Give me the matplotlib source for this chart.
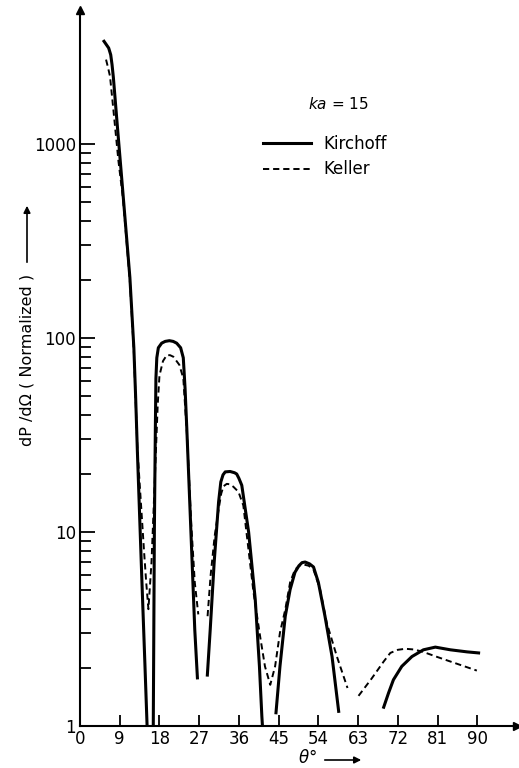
import matplotlib
matplotlib.use("Agg")
import matplotlib.pyplot as plt
from matplotlib.ticker import FixedLocator, NullFormatter
import numpy as np

plt.rcParams['font.family'] = ['DejaVu Sans']

# Kirchoff (solid) - theta in degrees, dP/dOmega normalized; nan = gap in the drawn curve
kirchoff_theta = [5.44, 5.96, 6.5, 6.96, 7.26, 7.56, 8.4, 9.75, 11.3, 12.2, 12.6, 13.0, 14.0,
                  14.7, 15.2, 15.9,
                  16.6, 16.85, 17.07, 17.2, 17.4, 17.75, 18.5, 19.3, 20.25, 21.1, 21.9, 22.8,
                  23.4, 23.8, 24.2, 25.1, 26.0, 26.6, np.nan,
                  28.85, 29.5, 30.4, 31.4, 31.9, 32.4, 32.9, 34.0, 35.0, 35.5, 36.0, 36.65,
                  38.2, 39.7, 40.65, 41.2, 41.6, np.nan,
                  44.4, 45.3, 46.5, 47.6, 48.7, 49.6, 50.3, 51.0, 52.0, 52.9, 54.0, 55.5,
                  57.1, 58.6, np.nan,
                  68.8, 69.9, 71.0, 72.9, 75.2, 77.8, 80.5, 83.9, 87.7, 90.3]
kirchoff_val = [3380, 3250, 3120, 2880, 2560, 2200, 1285, 550, 205, 89, 50, 26, 5.8,
                2.1, 1.0, 0.3,
                1.0, 10.4, 34, 62, 79, 89, 94, 96, 96.8, 96, 94, 89,
                79, 55, 34, 10.4, 3.14, 1.77, np.nan,
                1.83, 3.14, 7.0, 14.3, 18.1, 19.7, 20.4, 20.5, 20.2, 19.9, 18.9, 17.4,
                10.0, 4.49, 2.03, 1.12, 0.8, np.nan,
                1.17, 2.03, 3.68, 5.05, 6.2, 6.7, 6.95, 7.0, 6.85, 6.6, 5.5, 3.68,
                2.28, 1.19, np.nan,
                1.25, 1.48, 1.73, 2.03, 2.28, 2.47, 2.55, 2.47, 2.41, 2.38]

# Keller (dashed)
keller_theta = [5.9, 6.3, 6.8, 7.55, 8.7, 9.75, 11.3, 12.2, 13.0, 14.0, 14.5, 15.0, 15.5,
                16.2, 17.0, 17.6, 18.0, 18.8, 19.65, 20.4, 21.15, 22.5, 23.4, 24.3, 25.2,
                26.0, 26.8, np.nan,
                28.9, 29.6, 30.5, 31.5, 32.0, 32.5, 33.25, 34.0, 34.75, 35.9, 37.0, 39.3,
                40.8, 41.9, 43.1, 44.2, 45.3, 46.5, 47.6, 48.7, 49.7, 50.6, 51.8, 52.9, 54.4,
                55.9, 58.2, 60.6, np.nan,
                63.1, 66.1, 68.8, 70.3, 72.0, 73.7, 75.6, 77.5, 80.9, 83.9, 89.9]
keller_val = [2720, 2500, 2230, 1510, 820, 520, 195, 85, 27, 12, 8.0, 5.5, 4.0,
              7.0, 20, 45, 64, 76, 81.5, 81.5, 80, 72.7, 62, 30, 11,
              5.5, 3.76, np.nan,
              3.68, 6.0, 9.5, 13.5, 15.8, 17.2, 17.7, 17.6, 17.1, 16.1, 13.7, 4.9,
              2.9, 2.03, 1.63, 2.03, 3.03, 3.98, 5.5, 6.4, 6.7, 6.8, 6.7, 6.4, 5.05,
              3.4, 2.28, 1.57, np.nan,
              1.43, 1.76, 2.15, 2.38, 2.47, 2.5, 2.48, 2.42, 2.27, 2.15, 1.93]

x_ticks = [0, 9, 18, 27, 36, 45, 54, 63, 72, 81, 90]
y_ticks = [1, 10, 100, 1000]
y_minor = [m * d for d in (1, 10, 100) for m in range(2, 10)]

fig = plt.figure(figsize=(5.19, 7.68), dpi=100)
ax = fig.add_axes([80 / 519, 42 / 768, 437 / 519, 716 / 768])

ax.plot(kirchoff_theta, kirchoff_val, color='black', lw=2.2, label='Kirchoff')
ax.plot(keller_theta, keller_val, color='black', lw=1.4, linestyle=(0, (3.2, 2.0)), label='Keller')

ax.set_yscale('log')
ax.set_xlim(0, 99)
ax.set_ylim(1, 4900)

ax.xaxis.set_major_locator(FixedLocator(x_ticks))
ax.set_xticklabels([str(t) for t in x_ticks])
ax.yaxis.set_major_locator(FixedLocator(y_ticks))
ax.set_yticklabels([str(t) for t in y_ticks])
ax.yaxis.set_minor_locator(FixedLocator(y_minor))
ax.yaxis.set_minor_formatter(NullFormatter())
ax.xaxis.set_minor_locator(FixedLocator([]))

ax.tick_params(axis='both', which='major', direction='in', labelsize=12, width=1.3, pad=3)
ax.tick_params(axis='y', which='major', length=11)
ax.tick_params(axis='y', which='minor', direction='in', length=8, width=1.3)
ax.tick_params(axis='x', which='major', length=8)

for s in ('top', 'right'):
    ax.spines[s].set_visible(False)
for s in ('left', 'bottom'):
    ax.spines[s].set_linewidth(1.5)

# arrow heads at the ends of the axes
ax.plot(0, 1, '^k', markersize=6, transform=ax.transAxes, clip_on=False)
ax.plot(1, 0, '>k', markersize=6, transform=ax.transAxes, clip_on=False)

# labels
fig.text(27 / 519, 1 - 360 / 768, 'dP /d\u03a9 ( Normalized )', rotation=90,
         ha='center', va='center', fontsize=11.5)
fig.patches.append(matplotlib.patches.FancyArrowPatch(
    (27 / 519, 1 - 265 / 768), (27 / 519, 1 - 203 / 768), transform=fig.transFigure,
    arrowstyle='-|>', mutation_scale=10, color='black', lw=1.2))
fig.text(307 / 519, 1 - 758 / 768, r'$\theta$°', ha='center', va='center', fontsize=12)
fig.patches.append(matplotlib.patches.FancyArrowPatch(
    (322 / 519, 1 - 760 / 768), (364 / 519, 1 - 760 / 768), transform=fig.transFigure,
    arrowstyle='-|>', mutation_scale=10, color='black', lw=1.2))

fig.text(308 / 519, 1 - 104 / 768, '$ka$ = 15', ha='left', va='center', fontsize=11)
ax.legend(loc='upper left', bbox_to_anchor=(263 / 519, 1 - 135 / 768),
          bbox_transform=fig.transFigure, frameon=False, fontsize=12,
          handlelength=2.9, handletextpad=0.75, labelspacing=0.45, borderpad=0, borderaxespad=0)

fig.savefig('out.png', dpi=100)
